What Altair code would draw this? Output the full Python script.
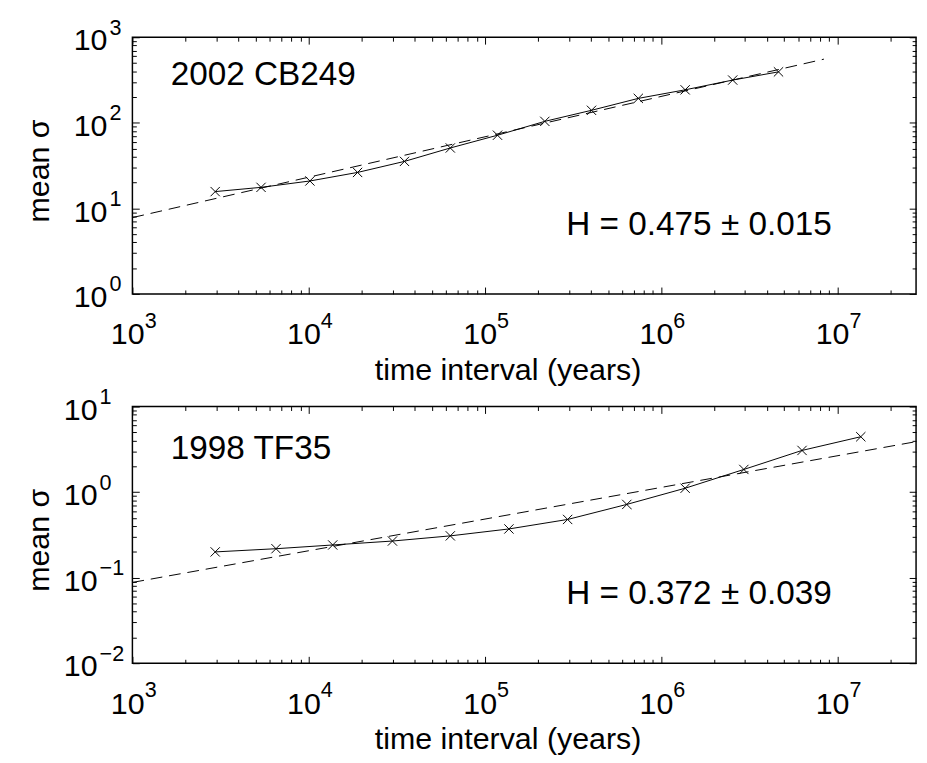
import altair as alt
import pandas as pd

# 2002 CB249: mean sigma vs time interval, and the power-law fit
cb_interval = [2950, 5370, 10170, 18960, 35000, 63700, 118000, 219000,
               403000, 743000, 1370000, 2550000, 4640000]
cb_sigma = [15.7, 17.6, 20.9, 26.3, 35.4, 50.8, 71.6, 104, 140, 193, 243, 316, 394]
cb_fit_interval = [1e3, 8.4e6]
cb_fit_sigma = [7.8, 555]

# 1998 TF35
tf_interval = [2950, 6530, 13700, 29900, 63700, 137000, 295000, 639000,
               1370000, 2950000, 6310000, 13600000]
tf_sigma = [0.200, 0.218, 0.241, 0.268, 0.308, 0.371, 0.479, 0.718,
            1.11, 1.84, 3.07, 4.44]
tf_fit_interval = [1e3, 2.8e7]
tf_fit_sigma = [0.088, 3.89]

FONT = 'Liberation Sans'
W, H = 800, 262
X_DOMAIN = [1e3, 2.8e7]
X_MAJOR = [1e3, 1e4, 1e5, 1e6, 1e7]

EXP_EXPR = "replace(format(round(log(datum.value) / LN10), 'd'), '-', '\u2212')"


def minor_ticks(lo, hi, upper):
    return [m * 10.0 ** e for e in range(lo, hi) for m in range(2, 10) if m * 10.0 ** e < upper]


def tick_axis(orient, offset, values, size):
    # tick-only axis, pushed onto the opposite edge so the ticks point inward
    return alt.Axis(orient=orient, offset=offset, values=values, labels=False,
                    ticks=True, tickSize=size, tickWidth=1, tickColor='black',
                    domain=False, grid=False, title=None)


def panel(t, s, fit_t, fit_s, y_domain, y_exps, name, name_pos, h_text, h_pos, ten_pad, exp_pad):
    obs = pd.DataFrame({'t': t, 's': s})
    fit = pd.DataFrame({'t': fit_t, 's': fit_s})
    notes = pd.DataFrame({'t': [name_pos[0], h_pos[0]],
                          's': [name_pos[1], h_pos[1]],
                          'label': [name, h_text]})

    xs = alt.Scale(type='log', domain=X_DOMAIN, nice=False)
    ys = alt.Scale(type='log', domain=y_domain, nice=False)
    y_major = [10.0 ** e for e in y_exps]
    x_minor = minor_ticks(3, 8, X_DOMAIN[1])
    y_minor = minor_ticks(y_exps[0], y_exps[-1], y_major[-1])

    # "10" labels and axis titles
    line = alt.Chart(obs).mark_line(color='black', strokeWidth=1).encode(
        x=alt.X('t:Q', scale=xs, axis=alt.Axis(
            orient='bottom', values=X_MAJOR, labelExpr="'10'", ticks=False,
            domain=False, grid=False,
            labelFontSize=31, labelAlign='right', labelBaseline='alphabetic',
            labelPadding=51, labelOffset=12, labelFlush=False, labelOverlap=False,
            title='time interval (years)', titleFontSize=31, titleFontWeight='normal',
            titleX=383, titleY=87, titleBaseline='alphabetic')),
        y=alt.Y('s:Q', scale=ys, axis=alt.Axis(
            orient='left', values=y_major, labelExpr="'10'", ticks=False,
            domain=False, grid=False,
            labelFontSize=31, labelAlign='right', labelBaseline='alphabetic',
            labelPadding=ten_pad, labelOffset=13, labelFlush=False, labelOverlap=False,
            title='mean \u03c3', titleFontSize=31, titleFontWeight='normal',
            titleX=-86, titleY=H / 2 + 5, titleBaseline='alphabetic'))
    )

    # exponents, from top/right axes moved onto the bottom/left edges
    pts = alt.Chart(obs).mark_point(
        shape='M-1,-1L1,1M-1,1L1,-1', size=90, filled=False,
        color='black', strokeWidth=1, opacity=1
    ).encode(
        x=alt.X('t:Q', scale=xs, axis=alt.Axis(
            orient='top', offset=-H, values=X_MAJOR, labelExpr=EXP_EXPR, ticks=False,
            domain=False, grid=False, labelFontSize=22, labelAlign='left',
            labelBaseline='alphabetic', labelPadding=-34, labelOffset=12,
            labelFlush=False, labelOverlap=False, title=None)),
        y=alt.Y('s:Q', scale=ys, axis=alt.Axis(
            orient='right', offset=-W, values=y_major, labelExpr=EXP_EXPR, ticks=False,
            domain=False, grid=False, labelFontSize=22, labelAlign='left',
            labelBaseline='alphabetic', labelPadding=-exp_pad, labelOffset=-3,
            labelFlush=False, labelOverlap=False, title=None))
    )

    # inward major ticks on the top and right edges
    text = alt.Chart(notes).mark_text(
        align='left', baseline='alphabetic', font=FONT, fontSize=34, color='black'
    ).encode(
        x=alt.X('t:Q', scale=xs, axis=tick_axis('bottom', -H, X_MAJOR, 7)),
        y=alt.Y('s:Q', scale=ys, axis=tick_axis('left', -W, y_major, 7)),
        text='label:N'
    )

    # inward major ticks on the bottom and left edges
    fit_line = alt.Chart(fit).mark_line(color='black', strokeWidth=1, strokeDash=[12, 7]).encode(
        x=alt.X('t:Q', scale=xs, axis=tick_axis('top', -H, X_MAJOR, 7)),
        y=alt.Y('s:Q', scale=ys, axis=tick_axis('right', -W, y_major, 7))
    )

    # minor ticks: top/right edges, then bottom/left edges
    minor_top = alt.Chart(obs).mark_point(opacity=0).encode(
        x=alt.X('t:Q', scale=xs, axis=tick_axis('bottom', -H, x_minor, 4)),
        y=alt.Y('s:Q', scale=ys, axis=tick_axis('left', -W, y_minor, 4))
    )
    minor_bottom = alt.Chart(obs).mark_point(opacity=0).encode(
        x=alt.X('t:Q', scale=xs, axis=tick_axis('top', -H, x_minor, 4)),
        y=alt.Y('s:Q', scale=ys, axis=tick_axis('right', -W, y_minor, 4))
    )

    return alt.layer(line, pts, text, fit_line, minor_top, minor_bottom).resolve_axis(
        x='independent', y='independent'
    ).properties(width=W, height=H)


top = panel(cb_interval, cb_sigma, cb_fit_interval, cb_fit_sigma, [1, 1000], [0, 1, 2, 3],
            '2002 CB249', (1650, 277), 'H = 0.475 \u00b1 0.015', (2.9e5, 4.9), 26, 24)
bottom = panel(tf_interval, tf_sigma, tf_fit_interval, tf_fit_sigma, [0.01, 10], [-2, -1, 0, 1],
               '1998 TF35', (1650, 2.46), 'H = 0.372 \u00b1 0.039', (2.9e5, 0.0489), 36, 34)

chart = alt.vconcat(top, bottom, spacing=115, bounds='flush').properties(
    padding={'left': 15, 'top': 0, 'right': 0, 'bottom': 0}
).configure_view(
    stroke='black', strokeWidth=1.5
).configure_axis(
    domainColor='black', tickColor='black', labelColor='black', titleColor='black',
    labelFont=FONT, titleFont=FONT
)

chart.save("out.html", embed_options={"renderer": "svg", "actions": False})
